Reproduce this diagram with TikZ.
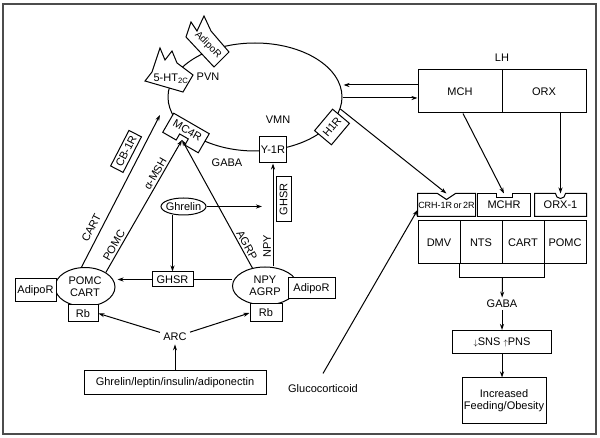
\documentclass[tikz,border=0pt]{standalone}
\usepackage{fontspec}
\setmainfont{Liberation Sans}
\usetikzlibrary{shapes.geometric, arrows.meta}

\begin{document}
\begin{tikzpicture}[x=1pt, y=-1pt, line width=1pt,
    font=\fontsize{11}{12}\selectfont,
    box/.style={draw, fill=white, inner sep=1pt},
    oval/.style={draw, ellipse, fill=white, inner sep=0pt, align=center},
    lbl/.style={inner sep=0pt},
    arr/.style={-{Stealth[length=6pt, width=4pt]}}]
    \tikzstyle{every node}+=[inner sep=0pt]
    \useasboundingbox (0,0) rectangle (600,438);
    \draw [black!70, line width=1.8pt] (3,4) rectangle (596,434);

    % hypothalamic nucleus
    \node [draw, ellipse, minimum width=174pt, minimum height=108pt] (nucleus) at (255,97) {};
    \node [lbl] (pvn) at (208,77) {PVN};
    \node [lbl] (vmn) at (278,120) {VMN};
    \node [lbl] (gaba) at (227,163) {GABA};

    % receptors sitting on the nucleus
    \draw [black, fill=white] (145,81) -- (152,72) -- (160,48) -- (165,60) -- (172,51) -- (177,63) -- (193,75) -- (183,92) -- cycle;
    \node [lbl] (htr) at (171,79) {5-HT\textsubscript{2C}};
    \draw [black, fill=white] (186,37) -- (191,22) -- (197,31) -- (204,16) -- (211,31) -- (229,52) -- (214,67) -- cycle;
    \node [lbl, rotate=-45, font=\fontsize{10}{12}\selectfont] (adipoTop) at (208,45) {AdipoR};
    \begin{scope}[shift={(186,133)}, rotate=-30]
      \draw [black, fill=white] (-20.5,-11) -- (20.5,-11) -- (20.5,11) -- (5,11) -- (5,4) -- (-5,4) -- (-5,11) -- (-20.5,11) -- cycle;
      \node [lbl, transform shape] (mc4r) at (0,-3) {MC4R};
      \coordinate (mc4rIn) at (0,8);
    \end{scope}
    \node [box, minimum size=26pt] (y1r) at (273,150) {Y-1R};
    \node [box, rotate=50, minimum width=28pt, minimum height=22pt] (h1r) at (332,127) {H1R};

    % lateral hypothalamus
    \node [lbl] (lh) at (502,58) {LH};
    \node [box, minimum width=84pt, minimum height=43pt] (mch) at (460,91.5) {MCH};
    \node [box, minimum width=84pt, minimum height=43pt] (orx) at (544,91.5) {ORX};
    \coordinate (lhIn) at ([yshift=6.5pt]mch.west);
    \coordinate (lhOut) at ([yshift=-6.5pt]mch.west);
    \draw [arr, shorten >=1pt] (lhIn) -- (lhIn -| nucleus.east);
    \draw [arr] (lhOut -| nucleus.east) -- (lhOut);

    % brainstem
    \node [box, minimum width=42pt, minimum height=43pt] (dmv) at (439,242.5) {DMV};
    \node [box, minimum width=42pt, minimum height=43pt] (nts) at (481,242.5) {NTS};
    \node [box, minimum width=42pt, minimum height=43pt] (cartB) at (523,242.5) {CART};
    \node [box, minimum width=42pt, minimum height=43pt] (pomcB) at (565,242.5) {POMC};
    \node [lbl, minimum width=57pt, minimum height=22pt, font=\fontsize{9}{10}\selectfont] (crh) at (446.5,205) {CRH-1R\,or\,2R};
    \draw [black] (crh.south west) -- (crh.north west) -- ([xshift=-9pt]crh.north) -- ([yshift=-6pt]crh.north) -- ([xshift=9pt]crh.north) -- (crh.north east) -- (crh.south east) -- cycle;
    \node [lbl, minimum width=52pt, minimum height=22pt] (mchr) at (504,205) {MCHR};
    \draw [black] (mchr.south west) -- (mchr.north west) -- ([xshift=-8pt]mchr.north) -- ([xshift=-8pt, yshift=-4pt]mchr.north) -- ([xshift=8pt, yshift=-4pt]mchr.north) -- ([xshift=8pt]mchr.north) -- (mchr.north east) -- (mchr.south east) -- cycle;
    \node [lbl, minimum width=51pt, minimum height=22pt] (orx1) at (560.5,205) {ORX-1};
    \draw [black] (orx1.south west) -- (orx1.north west) -- ([xshift=-5pt]orx1.north) arc [start angle=180, end angle=360, radius=5pt] -- (orx1.north east) -- (orx1.south east) -- cycle;
    \draw [arr] (nucleus.-8) -- (crh.north);
    \draw [arr] ([xshift=3pt]mch.south) -- (mchr.north);
    \draw [arr] (orx.south -| orx1.north) -- (orx1.north);

    % output pathway
    \coordinate (brace) at ([yshift=-13pt]nts.south east);
    \draw [black] (nts.south west) -- ++(0,13) -| (cartB.south east);
    \node [lbl] (gabaOut) at (502,304) {GABA};
    \draw [arr, shorten >=2pt] (brace) -- (gabaOut);
    \node [box, minimum width=99pt, minimum height=23pt] (sns) at (502,342) {{\footnotesize$\downarrow$}SNS {\footnotesize$\uparrow$}PNS};
    \draw [arr, shorten <=2pt] (gabaOut) -- (sns);
    \node [box, minimum width=84pt, minimum height=45pt, align=center] (obesity) at (504,400.5) {Increased\\Feeding/Obesity};
    \draw [arr] (sns.south) -- (sns.south |- obesity.north);

    % arcuate nucleus
    \node [oval, minimum width=60pt, minimum height=39pt] (pomcN) at (85,287) {POMC\\CART};
    \node [box, minimum width=41pt, minimum height=23pt] (adipoL) at (35.5,290.5) {AdipoR};
    \node [box, minimum width=30pt, minimum height=17pt] (rbL) at (83,313.5) {Rb};
    \node [oval, minimum width=65pt, minimum height=38pt] (npyN) at (265,286) {NPY\\AGRP};
    \node [box, minimum width=47pt, minimum height=21pt] (adipoR) at (311.5,288.5) {AdipoR};
    \node [box, minimum width=32pt, minimum height=18pt] (rbR) at (266,313) {Rb};
    \node [oval, inner xsep=-3pt, minimum width=45pt, minimum height=17pt] (ghrelin) at (183.5,206.5) {Ghrelin};
    \node [box, minimum width=41pt, minimum height=15pt] (ghsrM) at (172.5,279.5) {GHSR};
    \draw [black] (npyN.west |- ghsrM) -- (ghsrM);
    \draw [arr, shorten >=2pt] (ghsrM) -- (ghsrM -| pomcN.east);
    \draw [arr] (ghrelin.south -| ghsrM.north) -- (ghsrM.north);
    \coordinate (ghrTip) at (262,206.5);
    \draw [arr] (ghrelin) -- (ghrTip);
    \draw [arr] (y1r.south |- npyN.north) -- (y1r.south);
    \node [box, rotate=90, minimum width=45pt, minimum height=15pt] (ghsrV) at (283.5,199.5) {GHSR};
    \node [lbl, rotate=90] (npyLbl) at (267,246) {NPY};
    \draw [arr] (npyN.125) -- (mc4rIn);
    \node [lbl, rotate=-61] (agrpLbl) at (247,245) {AGRP};
    \draw [arr] (pomcN.35) -- node [lbl, sloped, above=2pt, pos=0.18] (pomcLbl) {POMC} node [lbl, sloped, above=2pt, pos=0.72] (msh) {α-MSH} (mc4rIn);
    \coordinate (cartTip) at (160,115);
    \draw [arr] (pomcN.100) -- node [lbl, sloped, above=5pt, pos=0.23] (cartLbl) {CART} node [box, sloped, above=6pt, pos=0.72, minimum width=40pt, minimum height=14pt] (cb1r) {CB-1R} (cartTip);

    % inputs
    \node [lbl, inner sep=3pt] (arc) at (175,337) {ARC};
    \draw [arr] (arc) -- (rbL.east);
    \draw [arr] (arc) -- (rbR.west);
    \node [box, minimum width=182pt, minimum height=23pt] (hormones) at (175,382.5) {Ghrelin/leptin/insulin/adiponectin};
    \draw [arr] (hormones) -- (arc);
    \node [lbl] (gluco) at (323,389) {Glucocorticoid};
    \draw [arr] ([yshift=11pt]gluco.north) -- ([yshift=-5pt]crh.west);
\end{tikzpicture}
\end{document}
